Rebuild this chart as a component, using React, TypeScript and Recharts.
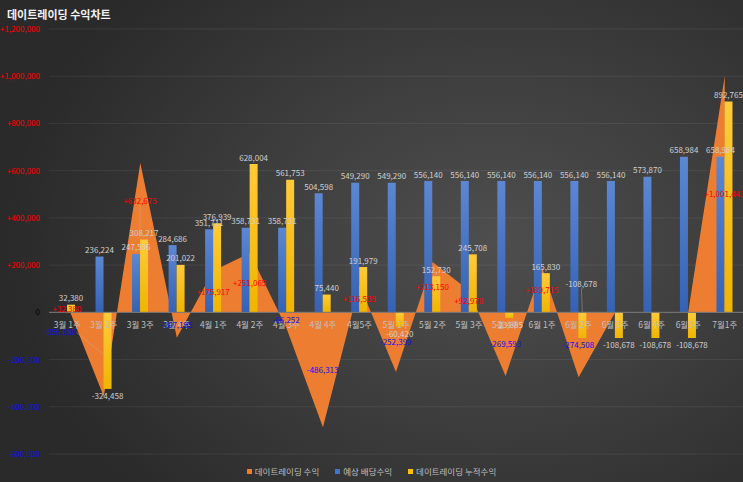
import React from 'react';
import {
  ComposedChart,
  Area,
  Bar,
  XAxis,
  YAxis,
  CartesianGrid,
  ReferenceLine,
  LabelList,
} from 'recharts';

// 주차별 데이터
const weeks = [
  '3월 1주', '3월 2주', '3월 3주', '3월 4주', '4월 1주', '4월 2주', '4월 3주',
  '4월 4주', '4월5주', '5월 1주', '5월 2주', '5월 3주', '5월 4주', '6월 1주',
  '6월 2주', '6월 3주', '6월 4주', '6월5주', '7월1주',
];
const weeklyProfit = [
  32380, -356838, 632675, -107195, 175917, 251065, -66252, -486313, 116539,
  -252399, 213150, 92978, -269593, 189715, -274508, 0, 0, 0, 1001443,
];
const expectedDividend = [
  null, 236224, 247536, 284686, 351711, 358731, 358731, 504598, 549290, 549290,
  556140, 556140, 556140, 556140, 556140, 556140, 573870, 658984, 658984,
];
const cumulativeProfit = [
  32380, -324458, 308217, 201022, 376939, 628004, 561753, 75440, 191979, -60420,
  152730, 245708, -23885, 165830, -108678, -108678, -108678, -108678, 892765,
];
const yTicks = [-600000, -400000, -200000, 0, 200000, 400000, 600000, 800000, 1000000, 1200000];

const data = weeks.map((name, i) => ({
  name,
  profit: weeklyProfit[i],
  dividend: expectedDividend[i],
  cumulative: cumulativeProfit[i],
}));

const FONT = '"Noto Sans CJK KR", "Noto Sans", sans-serif';
const LABEL_GREY = '#d0d0d0';

const num = (v: number) => Math.abs(v).toLocaleString('en-US');
const signed = (v: number) => (v > 0 ? `+${num(v)}` : v < 0 ? `-${num(v)}` : '0');
const signColor = (v: number) => (v > 0 ? '#ff0000' : v < 0 ? '#1010e8' : '#000000');

// 수동으로 옮긴 라벨: [dx, dy, 지시선 시작 dx, dy]
const profitLabelMoves: Record<number, number[]> = {
  1: [-43, -22, 16, 0],
  2: [0, -37, 0, 4],
};
const cumulativeLabelMoves: Record<number, number[]> = {
  14: [-1, -61, 0, 4],
};

const box = (p: any) => p.viewBox ?? p;

const YTick = ({ x, y, payload }: any) => (
  <text x={x} y={y} dy={3} textAnchor="end" fontSize={8} fontFamily={FONT} fill={signColor(payload.value)}>
    {signed(payload.value)}
  </text>
);

// 데이트레이딩 수익 라벨 (막대 중앙 위치)
const ProfitLabel = (props: any) => {
  const { x, y, width, height } = box(props);
  const v = Number(props.value);
  const cx = x + width / 2;
  const cy = y + height / 2;
  const mv = profitLabelMoves[props.index];
  const lx = mv ? cx + mv[0] : cx;
  const ly = mv ? cy + mv[1] : cy;
  return (
    <g>
      {mv && (
        <line x1={lx + mv[2]} y1={ly + mv[3]} x2={cx} y2={cy} stroke="#bfbfbf" strokeOpacity={0.5} strokeWidth={0.7} />
      )}
      <text x={lx} y={ly} dy={3} textAnchor="middle" fontSize={8} fontFamily={FONT} fill={signColor(v)}>
        {signed(v)}
      </text>
    </g>
  );
};

const BarValueLabel = (moves: Record<number, number[]>) => (props: any) => {
  if (props.value == null) return null;
  const { x, y, width, height } = box(props);
  const v = Number(props.value);
  const top = Math.min(y, y + height);
  const bottom = Math.max(y, y + height);
  const cx = x + width / 2;
  const cy = v >= 0 ? top - 6.5 : bottom + 7.5;
  const mv = moves[props.index];
  const lx = mv ? cx + mv[0] : cx;
  const ly = mv ? cy + mv[1] : cy;
  return (
    <g>
      {mv && (
        <line x1={lx + mv[2]} y1={ly + mv[3]} x2={cx} y2={top} stroke="#bfbfbf" strokeOpacity={0.5} strokeWidth={0.7} />
      )}
      <text x={lx} y={ly} dy={3} textAnchor="middle" fontSize={8} fontFamily={FONT} fill={LABEL_GREY}>
        {v < 0 ? `-${num(v)}` : num(v)}
      </text>
    </g>
  );
};

// 0 기준선 아래 카테고리 이름
const CategoryLabels = (props: any) => {
  const { x, y, width } = box(props);
  const step = width / weeks.length;
  return (
    <g>
      {weeks.map((w, i) => (
        <text key={w} x={x + step * (i + 0.5)} y={y + 16} textAnchor="middle" fontSize={8.5} fontFamily={FONT} fill="#bfbfbf">
          {w}
        </text>
      ))}
    </g>
  );
};

const legendItems = [
  { name: '데이트레이딩 수익', color: '#ed7d31' },
  { name: '예상 배당수익', color: '#4472c4' },
  { name: '데이트레이딩 누적수익', color: '#ffc000' },
];

export default function App() {
  return (
    <div
      style={{
        position: 'relative',
        width: 743,
        height: 482,
        overflow: 'hidden',
        fontFamily: FONT,
        background: 'radial-gradient(ellipse 65% 75% at 66% 50%, #4e4e4e 0%, #3f3f3f 45%, #2a2a2a 100%)',
      }}
    >
      <style>{'body{margin:0}'}</style>
      <div style={{ position: 'absolute', left: 7, top: 6, color: '#f2f2f2', fontSize: 11, fontWeight: 700 }}>
        데이트레이딩 수익차트
      </div>
      <ComposedChart width={743} height={482} data={data} barGap={0} margin={{ top: 29, right: 0, bottom: 28, left: 0 }}>
        <defs>
          <linearGradient id="blueFill" x1="0" y1="0" x2="0" y2="1">
            <stop offset="0%" stopColor="#5b87d3" />
            <stop offset="100%" stopColor="#3562b4" />
          </linearGradient>
          <linearGradient id="yellowFill" x1="0" y1="0" x2="0" y2="1">
            <stop offset="0%" stopColor="#ffca3a" />
            <stop offset="100%" stopColor="#efb500" />
          </linearGradient>
        </defs>
        <CartesianGrid vertical={false} stroke="#ffffff" strokeOpacity={0.07} />
        <XAxis dataKey="name" hide />
        <XAxis xAxisId="mid" dataKey="name" hide />
        <YAxis
          domain={[-600000, 1200000]}
          ticks={yTicks}
          width={49}
          axisLine={false}
          tickLine={false}
          tickSize={0}
          tickMargin={9}
          tick={<YTick />}
        />
        <Area
          type="linear"
          dataKey="profit"
          baseValue={0}
          fill="#ed7d31"
          fillOpacity={1}
          stroke="none"
          dot={false}
          activeDot={false}
          isAnimationActive={false}
        />
        <Bar dataKey="dividend" fill="url(#blueFill)" barSize={8} isAnimationActive={false}>
          <LabelList dataKey="dividend" content={BarValueLabel({})} />
        </Bar>
        <Bar dataKey="cumulative" fill="url(#yellowFill)" barSize={8} isAnimationActive={false}>
          <LabelList dataKey="cumulative" content={BarValueLabel(cumulativeLabelMoves)} />
        </Bar>
        <Bar xAxisId="mid" dataKey="profit" fill="none" barSize={8} isAnimationActive={false}>
          <LabelList dataKey="profit" content={ProfitLabel} />
        </Bar>
        <ReferenceLine y={0} stroke="#7a7a7a" strokeWidth={1} label={CategoryLabels} />
      </ComposedChart>
      <div
        style={{
          position: 'absolute',
          left: 0,
          right: 0,
          top: 465,
          display: 'flex',
          justifyContent: 'center',
          gap: 16,
          fontSize: 8.5,
          color: '#bfbfbf',
        }}
      >
        {legendItems.map((it) => (
          <span key={it.name} style={{ display: 'flex', alignItems: 'center', gap: 3 }}>
            <span style={{ width: 5, height: 5, background: it.color, display: 'inline-block' }} />
            {it.name}
          </span>
        ))}
      </div>
    </div>
  );
}
